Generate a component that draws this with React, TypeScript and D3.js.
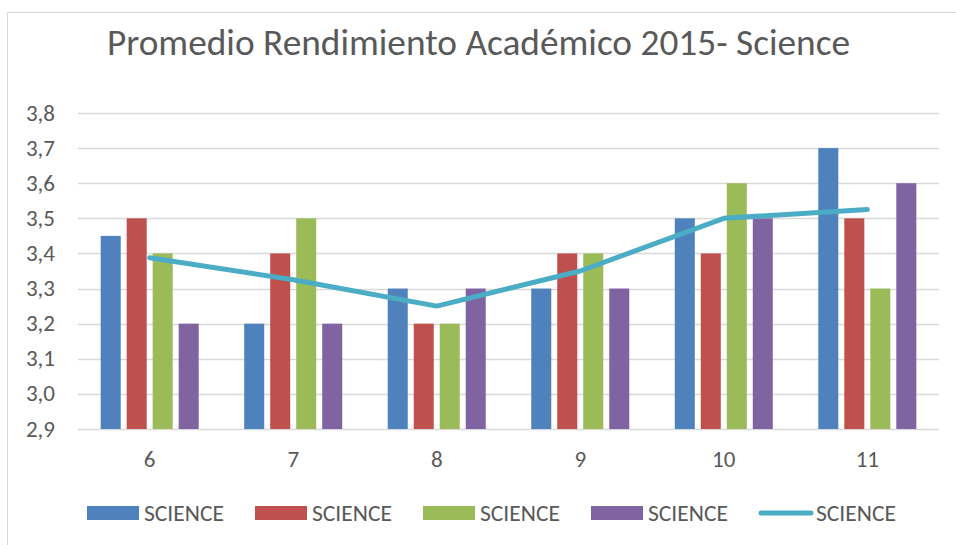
import React, { useEffect, useRef } from "react";
import * as d3 from "d3";

const categories: string[] = ["6", "7", "8", "9", "10", "11"];
const barSeries1: number[] = [3.45, 3.2, 3.3, 3.3, 3.5, 3.7];
const barSeries2: number[] = [3.5, 3.4, 3.2, 3.4, 3.4, 3.5];
const barSeries3: number[] = [3.4, 3.5, 3.2, 3.4, 3.6, 3.3];
const barSeries4: number[] = [3.2, 3.2, 3.3, 3.3, 3.5, 3.6];
const lineSeries: number[] = [3.3875, 3.325, 3.25, 3.35, 3.5, 3.525];
const yTicks: number[] = [2.9, 3.0, 3.1, 3.2, 3.3, 3.4, 3.5, 3.6, 3.7, 3.8];
const seriesNames: string[] = ["SCIENCE", "SCIENCE", "SCIENCE", "SCIENCE", "SCIENCE"];
const colors: string[] = ["#4F81BD", "#C0504D", "#9BBB59", "#8064A2", "#4BACC6"];

const App: React.FC = () => {
    const svgRef = useRef<SVGSVGElement | null>(null);

    useEffect(() => {
        if (!svgRef.current) return;
        const svg = d3.select(svgRef.current);
        svg.selectAll("*").remove();

        const width = 956;
        const height = 545;
        const plot = { left: 78, right: 939, top: 113, bottom: 429 };
        const font = "Calibri, Carlito, 'Open Sans', sans-serif";
        const textColor = "#595959";

        // chart frame
        svg.append("rect")
            .attr("x", 7.5)
            .attr("y", 12.5)
            .attr("width", width + 20)
            .attr("height", height + 20)
            .attr("fill", "#fff")
            .attr("stroke", "#D9D9D9")
            .attr("stroke-width", 1);

        svg.append("text")
            .attr("x", 107)
            .attr("y", 55)
            .attr("textLength", 743)
            .attr("lengthAdjust", "spacingAndGlyphs")
            .style("font-family", font)
            .attr("font-size", 37)
            .attr("fill", textColor)
            .text("Promedio Rendimiento Académico 2015- Science");

        const x0 = d3.scaleBand<string>()
            .domain(categories)
            .range([plot.left, plot.right])
            .paddingInner(0.317)
            .paddingOuter(0.158);

        const x1 = d3.scaleBand<number>()
            .domain([0, 1, 2, 3])
            .range([0, x0.bandwidth()])
            .paddingInner(0.23)
            .paddingOuter(0);

        const y = d3.scaleLinear()
            .domain([2.9, 3.8])
            .range([plot.bottom, plot.top]);

        // gridlines
        svg.append("g")
            .selectAll("line")
            .data(yTicks)
            .join("line")
            .attr("x1", plot.left)
            .attr("x2", plot.right)
            .attr("y1", (d) => Math.round(y(d)) + 0.5)
            .attr("y2", (d) => Math.round(y(d)) + 0.5)
            .attr("stroke", "#D9D9D9")
            .attr("stroke-width", 1.5);

        // y labels
        svg.append("g")
            .selectAll("text")
            .data(yTicks)
            .join("text")
            .attr("x", 55)
            .attr("y", (d) => y(d) + 7.5)
            .attr("text-anchor", "end")
            .style("font-family", font)
            .attr("font-size", 23)
            .attr("fill", textColor)
            .text((d) => d3.format(".1f")(d).replace(".", ","));

        // x labels
        svg.append("g")
            .selectAll("text")
            .data(categories)
            .join("text")
            .attr("x", (d) => x0(d)! + x0.bandwidth() / 2)
            .attr("y", 467)
            .attr("text-anchor", "middle")
            .style("font-family", font)
            .attr("font-size", 23)
            .attr("fill", textColor)
            .text((d) => d);

        const bars = [barSeries1, barSeries2, barSeries3, barSeries4];
        bars.forEach((vals, si) => {
            svg.append("g")
                .selectAll("rect")
                .data(vals)
                .join("rect")
                .attr("x", (_d, i) => x0(categories[i])! + x1(si)!)
                .attr("y", (d) => y(d))
                .attr("width", x1.bandwidth())
                .attr("height", (d) => y(2.9) - y(d))
                .attr("fill", colors[si]);
        });

        const line = d3.line<number>()
            .x((_d, i) => x0(categories[i])! + x0.bandwidth() / 2)
            .y((d) => y(d));

        svg.append("path")
            .datum(lineSeries)
            .attr("d", line)
            .attr("fill", "none")
            .attr("stroke", colors[4])
            .attr("stroke-width", 5)
            .attr("stroke-linecap", "round")
            .attr("stroke-linejoin", "round");

        // legend
        const legend = svg.append("g");
        seriesNames.forEach((name, i) => {
            const lx = 87 + i * 168;
            if (i < 4) {
                legend.append("rect")
                    .attr("x", lx)
                    .attr("y", 506)
                    .attr("width", 52)
                    .attr("height", 14)
                    .attr("fill", colors[i]);
            } else {
                legend.append("line")
                    .attr("x1", lx + 2)
                    .attr("x2", lx + 52)
                    .attr("y1", 513)
                    .attr("y2", 513)
                    .attr("stroke", colors[i])
                    .attr("stroke-width", 5)
                    .attr("stroke-linecap", "round");
            }
            legend.append("text")
                .attr("x", lx + 57)
                .attr("y", 520.5)
                .attr("textLength", 80)
                .attr("lengthAdjust", "spacingAndGlyphs")
                .style("font-family", font)
                .attr("font-size", 23)
                .attr("fill", textColor)
                .text(name);
        });
    }, []);

    return (
        <div style={{ position: "absolute", left: 0, top: 0, width: 956, height: 545, background: "#fff" }}>
            <svg ref={svgRef} width={956} height={545} style={{ display: "block" }}></svg>
        </div>
    );
};

export default App;
